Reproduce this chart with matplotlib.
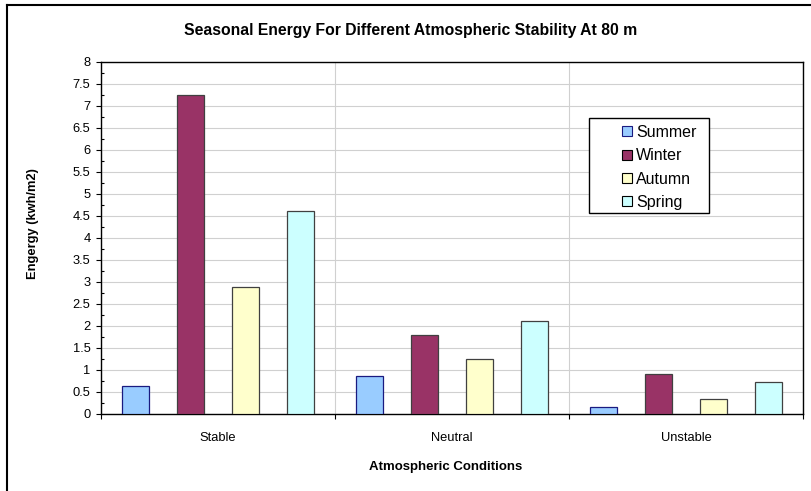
import matplotlib
matplotlib.use("Agg")
import matplotlib.pyplot as plt
import numpy as np
from matplotlib.patches import Rectangle
from matplotlib.lines import Line2D
from matplotlib.ticker import MultipleLocator, FixedLocator, NullFormatter, FixedFormatter

plt.rcParams['font.family'] = ['Liberation Sans', 'DejaVu Sans']

categories = ["Stable", "Neutral", "Unstable"]
seasons = ["Summer", "Winter", "Autumn", "Spring"]
summer = [0.64, 0.86, 0.15]
winter = [7.25, 1.80, 0.91]
autumn = [2.88, 1.24, 0.35]
spring = [4.62, 2.12, 0.72]
values = [summer, winter, autumn, spring]

face_colors = ["#99CCFF", "#993366", "#FFFFCC", "#CCFFFF"]
edge_colors = ["#1a1a80", "#404040", "#404040", "#404040"]

W, H = 812, 491
fig = plt.figure(figsize=(W / 100, H / 100), dpi=100)

def fx(px):
    return px / W

def fy(py):
    return 1 - py / H

ax = fig.add_axes([fx(101), fy(414), fx(803) - fx(101), fy(62) - fy(414)])

x = np.arange(len(categories))
step = 0.235
bw = 0.118
for i, (vals, fc, ec) in enumerate(zip(values, face_colors, edge_colors)):
    ax.bar(x + (i - 1.5) * step, vals, width=bw, color=fc, edgecolor=ec,
           linewidth=0.9, zorder=3)

ax.set_xlim(-0.5, len(categories) - 0.5)
ax.set_ylim(0, 8)

# y axis
ax.yaxis.set_major_locator(MultipleLocator(0.5))
ax.yaxis.set_minor_locator(MultipleLocator(0.25))
ax.yaxis.set_major_formatter(plt.FuncFormatter(lambda v, p: f"{v:g}"))
ax.tick_params(axis='y', which='major', direction='out', length=3.6, width=0.8,
               pad=4, labelsize=9.3, color='black')
ax.tick_params(axis='y', which='minor', direction='in', length=2.2, width=0.8,
               color='black')

# x axis: ticks at category boundaries, labels at centers
bounds = np.arange(len(categories) + 1) - 0.5
ax.xaxis.set_major_locator(FixedLocator(bounds))
ax.xaxis.set_major_formatter(NullFormatter())
ax.xaxis.set_minor_locator(FixedLocator(x))
ax.xaxis.set_minor_formatter(FixedFormatter(categories))
ax.tick_params(axis='x', which='major', direction='out', length=3.6, width=0.8)
ax.tick_params(axis='x', which='minor', length=0, pad=13, labelsize=9.3)

ax.grid(axis='y', which='major', color='#d0d0d0', linewidth=0.8, zorder=0)
ax.grid(axis='x', which='major', color='#d0d0d0', linewidth=0.8, zorder=0)

for s in ax.spines.values():
    s.set_color('black')
    s.set_linewidth(1.0)

# titles
fig.text(fx(411), fy(31), "Seasonal Energy For Different Atmospheric Stability At 80 m",
         ha='center', va='center', fontsize=11.3, fontweight='bold')
fig.text(fx(33), fy(224), "Engergy (kwh/m2)", rotation=90, ha='center', va='center',
         fontsize=9.3, fontweight='bold')
fig.text(fx(445.5), fy(467), "Atmospheric Conditions", ha='center', va='center',
         fontsize=9.5, fontweight='bold')

# legend
handles = [Rectangle((0, 0), 1, 1, facecolor=fc, edgecolor=('#1a1a80' if i == 0 else 'black'),
                     linewidth=0.8) for i, fc in enumerate(face_colors)]
leg = fig.legend(handles, seasons, loc='upper left', bbox_to_anchor=(fx(622), fy(125)),
                 bbox_transform=fig.transFigure, frameon=False, fontsize=11.5,
                 handlelength=0.62, handleheight=0.6, handletextpad=0.25,
                 labelspacing=0.52, borderpad=0, borderaxespad=0)
fig.add_artist(Rectangle((fx(589), fy(213)), fx(709) - fx(589), fy(118) - fy(213),
                         transform=fig.transFigure, facecolor='none', edgecolor='black',
                         linewidth=1.0, zorder=5))
fig.patches.append(Rectangle((fx(589), fy(213)), fx(709) - fx(589), fy(118) - fy(213),
                             transform=fig.transFigure, facecolor='white', edgecolor='none',
                             zorder=4))

# outer chart frame (extends beyond image on right/bottom)
fig.add_artist(Line2D([fx(7), fx(7)], [fy(5), 0], transform=fig.transFigure,
                      color='black', linewidth=1.5))
fig.add_artist(Line2D([fx(7), 1], [fy(5), fy(5)], transform=fig.transFigure,
                      color='black', linewidth=1.5))

fig.savefig("out.png", dpi=100)
